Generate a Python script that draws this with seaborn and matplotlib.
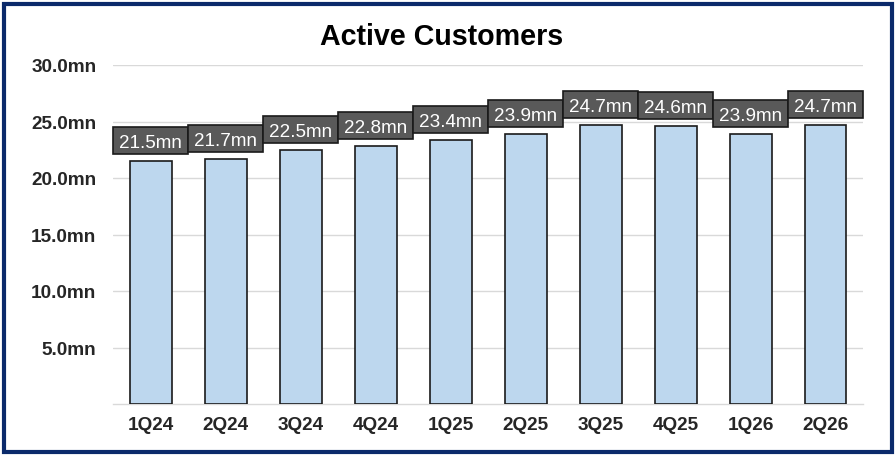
import matplotlib
matplotlib.use("Agg")
import matplotlib.pyplot as plt
import seaborn as sns
import pandas as pd
from matplotlib.patches import Rectangle

quarters = ["1Q24", "2Q24", "3Q24", "4Q24", "1Q25", "2Q25", "3Q25", "4Q25", "1Q26", "2Q26"]
customers = [21.5, 21.7, 22.5, 22.8, 23.4, 23.9, 24.7, 24.6, 23.9, 24.7]
yticks = [5, 10, 15, 20, 25, 30]

sns.set_theme(style="white")
plt.rcParams['font.family'] = ['Liberation Sans', 'DejaVu Sans']

df = pd.DataFrame({"quarter": quarters, "customers": customers})

fig = plt.figure(figsize=(8.96, 4.56), dpi=100)
ax = fig.add_axes([113/896, 1 - 405/456, (863-113)/896, (405-66)/456])

sns.barplot(data=df, x="quarter", y="customers", ax=ax, color="#BDD7EE",
            saturation=1, width=0.56, edgecolor="#1a1a1a", linewidth=1.2, zorder=3)

ax.set_ylim(0, 30)
ax.set_xlim(-0.5, len(quarters) - 0.5)
ax.set_yticks(yticks)
ax.set_yticklabels([f"{v:.1f}mn" for v in yticks], fontsize=13.7, fontweight="bold")
ax.set_xticks(range(len(quarters)))
ax.set_xticklabels(quarters, fontsize=13.7, fontweight="bold")
ax.tick_params(axis="y", length=0, pad=12)
ax.tick_params(axis="x", length=0, pad=9)
ax.set_xlabel("")
ax.set_ylabel("")
ax.yaxis.grid(True, color="#D9D9D9", linewidth=1.0, zorder=0)
ax.set_axisbelow(True)
for s in ["top", "right", "left"]:
    ax.spines[s].set_visible(False)
ax.spines["bottom"].set_color("#D9D9D9")
ax.spines["bottom"].set_linewidth(1.0)

# value label boxes: one slot wide, sitting just above each bar
gap = 0.62
box_h = 2.39
for i, v in enumerate(customers):
    ax.add_patch(Rectangle((i - 0.5, v + gap), 1.0, box_h, fc="#595959", ec="#1a1a1a",
                           lw=1.2, zorder=5, clip_on=False))
    ax.text(i, v + gap + box_h / 2, f"{v}mn", ha="center", va="center_baseline",
            fontsize=13.6, color="white", zorder=6)

fig.text(441.5/896, 1 - 37/456, "Active Customers", ha="center", va="center",
         fontsize=20.6, fontweight="bold", color="black")

fig.patches.append(Rectangle((3.5/896, 3.5/456), 888/896, 448/456, transform=fig.transFigure,
                             fill=False, ec="#0B2A6B", lw=3.0))

fig.savefig("out.png", dpi=100)
